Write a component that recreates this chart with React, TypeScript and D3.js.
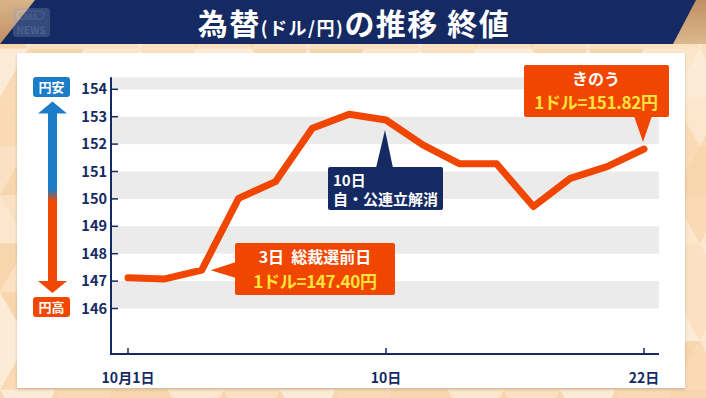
import React from "react";
import * as d3 from "d3";

const dates = ["10/1","10/2","10/3","10/6","10/7","10/8","10/9","10/10","10/14","10/15","10/16","10/17","10/20","10/21","10/22"];
const rates = [147.12,147.08,147.40,150.02,150.63,152.58,153.09,152.88,151.97,151.28,151.28,149.72,150.75,151.18,151.82];
const yTicks = [146,147,148,149,150,151,152,153,154];
const xTickIdx = [0, 7, 14];
const xTickLabels = ["10月1日", "10日", "22日"];
const title = ["為替", "(ドル/円)", "の推移 終値"];

const W = 706, H = 398;
const FONT = "'Noto Sans CJK JP', 'Noto Sans', sans-serif";
const NAVY = "#152a62";
const RED = "#f14600";
const YELLOW = "#ffe23c";

export default function App() {
  const x = d3.scaleLinear().domain([0, dates.length - 1]).range([128, 644]);
  const y = d3.scaleLinear().domain([146, 154]).range([308.5, 89.3]);
  const plotLeft = 111, plotRight = 659, plotTop = y(154.44), plotBottom = 354;

  const line = d3.line<number>().x((_, i) => x(i)).y(d => y(d));

  // background triangles (decoration)
  const tri: JSX.Element[] = [];
  const shades = ["#fde8cf", "#f9d9b2", "#fbe1c2", "#f8d4a8", "#fdeedb"];
  const s = 56;
  let k = 0;
  for (let r = -1; r < 9; r++) {
    for (let c = -1; c < 15; c++) {
      const ox = c * s + (r % 2 ? s / 2 : 0);
      const oy = r * s * 0.87;
      const h = s * 0.87;
      tri.push(<polygon key={"a" + k} points={`${ox},${oy} ${ox + s},${oy} ${ox + s / 2},${oy + h}`} fill={shades[Math.abs(r * 3 + c * 7) % 5]} />);
      tri.push(<polygon key={"b" + k} points={`${ox + s / 2},${oy + h} ${ox + s},${oy} ${ox + s * 1.5},${oy + h}`} fill={shades[Math.abs(r * 2 + c * 5 + 2) % 5]} />);
      k++;
    }
  }

  const bands = [];
  for (let v = 146; v < 155; v += 2) {
    const top = Math.max(y(v + 1), plotTop);
    bands.push(<rect key={v} x={plotLeft} y={top} width={plotRight - plotLeft} height={y(v) - top} fill="#ebebeb" />);
  }

  const p1 = { x: x(2), y: y(rates[2]) };
  const p2 = { x: x(7), y: y(rates[7]) };
  const p3 = { x: x(14), y: y(rates[14]) };

  return (
    <svg width={W} height={H} style={{ position: "fixed", left: 0, top: 0 }} fontFamily={FONT}>
      <defs>
        <linearGradient id="arr" x1="0" y1="0" x2="0" y2="1">
          <stop offset="0" stopColor="#1b7dc8" />
          <stop offset="0.46" stopColor="#1b7dc8" />
          <stop offset="0.52" stopColor="#f04800" />
          <stop offset="1" stopColor="#f04800" />
        </linearGradient>
        <linearGradient id="wood" x1="0" y1="0" x2="1" y2="1">
          <stop offset="0" stopColor="#d9b48a" />
          <stop offset="0.5" stopColor="#c09062" />
          <stop offset="1" stopColor="#dcb98f" />
        </linearGradient>
        <filter id="sh" x="-5%" y="-5%" width="110%" height="115%">
          <feDropShadow dx="0" dy="1.5" stdDeviation="1.5" floodColor="#000" floodOpacity="0.18" />
        </filter>
      </defs>
      <rect x={0} y={0} width={W} height={H} fill="#fbe3c6" />
      <g opacity={0.8}>{tri}</g>

      {/* title bar */}
      <rect x={0} y={0} width={W} height={44} fill="url(#wood)" />
      <polygon points={`35,0 696,0 673,44 0,44`} fill={NAVY} />
      <g opacity={0.28}>
        <rect x={13} y={8} width={37} height={29} rx={3} fill="#8aa0c8" />
        <rect x={17} y={11} width={27} height={8} rx={4} fill="none" stroke="#dfe6f3" strokeWidth={1.2} />
        <text x={30.5} y={17.5} textAnchor="middle" fontSize={6} fontWeight={700} fill="#dfe6f3">ANN</text>
        <text x={31} y={34} textAnchor="middle" fontSize={10} fontWeight={700} fill="#dfe6f3">NEWS</text>
      </g>
      <text x={354} y={35} textAnchor="middle" fill="#fff" fontWeight={700} letterSpacing={1.5}>
        <tspan fontSize={30}>{title[0]}</tspan>
        <tspan fontSize={18}>{title[1]}</tspan>
        <tspan fontSize={30}>{title[2]}</tspan>
      </text>

      {/* card */}
      <rect x={17} y={53} width={668} height={335} fill="#fff" filter="url(#sh)" />

      {bands}

      {/* axes */}
      <line x1={plotLeft} x2={plotLeft} y1={plotTop} y2={plotBottom} stroke={NAVY} strokeWidth={2} />
      <line x1={plotLeft - 1} x2={plotRight} y1={plotBottom} y2={plotBottom} stroke={NAVY} strokeWidth={2} />
      {yTicks.map(t => (
        <g key={t}>
          <line x1={plotLeft} x2={plotLeft + 7} y1={y(t)} y2={y(t)} stroke={NAVY} strokeWidth={1.5} />
          <text x={107} y={y(t) + 5} textAnchor="end" fontSize={14.5} fontWeight={700} fill={NAVY}>{t}</text>
        </g>
      ))}
      {xTickIdx.map((i, j) => (
        <g key={i}>
          <line x1={x(i)} x2={x(i)} y1={plotBottom} y2={plotBottom - 6} stroke={NAVY} strokeWidth={1.5} />
          <text x={x(i)} y={383} textAnchor="middle" fontSize={14} fontWeight={700} fill={NAVY}>{xTickLabels[j]}</text>
        </g>
      ))}

      {/* data line */}
      <path d={line(rates) || ""} fill="none" stroke={RED} strokeWidth={7} strokeLinejoin="round" strokeLinecap="round" />

      {/* legend arrow */}
      <rect x={33} y={77} width={37} height={20} rx={3} fill="#1b7dc8" />
      <text x={51.5} y={92} textAnchor="middle" fontSize={13} fontWeight={700} fill="#fff">円安</text>
      <path d="M52.5,101.5 L67,113.5 L57,113.5 L57,281 L67,281 L52.5,293 L38,281 L48,281 L48,113.5 L38,113.5 Z" fill="url(#arr)" />
      <rect x={33} y={297} width={37} height={20} rx={3} fill="#f04800" />
      <text x={51.5} y={312} textAnchor="middle" fontSize={13} fontWeight={700} fill="#fff">円高</text>

      {/* callout 1 */}
      <g>
        <rect x={235} y={243} width={160} height={52} rx={2} fill={RED} />
        <polygon points={`${p1.x + 9},${p1.y} 236,262 236,278`} fill={RED} />
        <text x={315} y={263} textAnchor="middle" fontSize={16} fontWeight={700} fill="#fff">{"3日\u00a0\u00a0総裁選前日"}</text>
        <text x={315} y={288} textAnchor="middle" fontSize={17} fontWeight={700} fill={YELLOW} letterSpacing={-0.3}>1ドル=147.40円</text>
      </g>

      {/* callout 2 */}
      <g>
        <rect x={328} y={167} width={115} height={43} rx={2} fill={NAVY} />
        <polygon points={`${p2.x - 1},${p2.y + 10} 376,168 393,168`} fill={NAVY} />
        <text x={333} y={186} fontSize={15} fontWeight={700} fill="#fff">10日</text>
        <text x={333} y={205} fontSize={15} fontWeight={700} fill="#fff">自・公連立解消</text>
      </g>

      {/* callout 3 */}
      <g>
        <rect x={524} y={65} width={145} height={52} rx={2} fill={RED} />
        <polygon points={`${p3.x - 1},${p3.y - 7} 634,116 652,116`} fill={RED} />
        <text x={596} y={85} textAnchor="middle" fontSize={16} fontWeight={700} fill="#fff">きのう</text>
        <text x={596} y={109} textAnchor="middle" fontSize={17} fontWeight={700} fill={YELLOW} letterSpacing={-0.3}>1ドル=151.82円</text>
      </g>
    </svg>
  );
}
